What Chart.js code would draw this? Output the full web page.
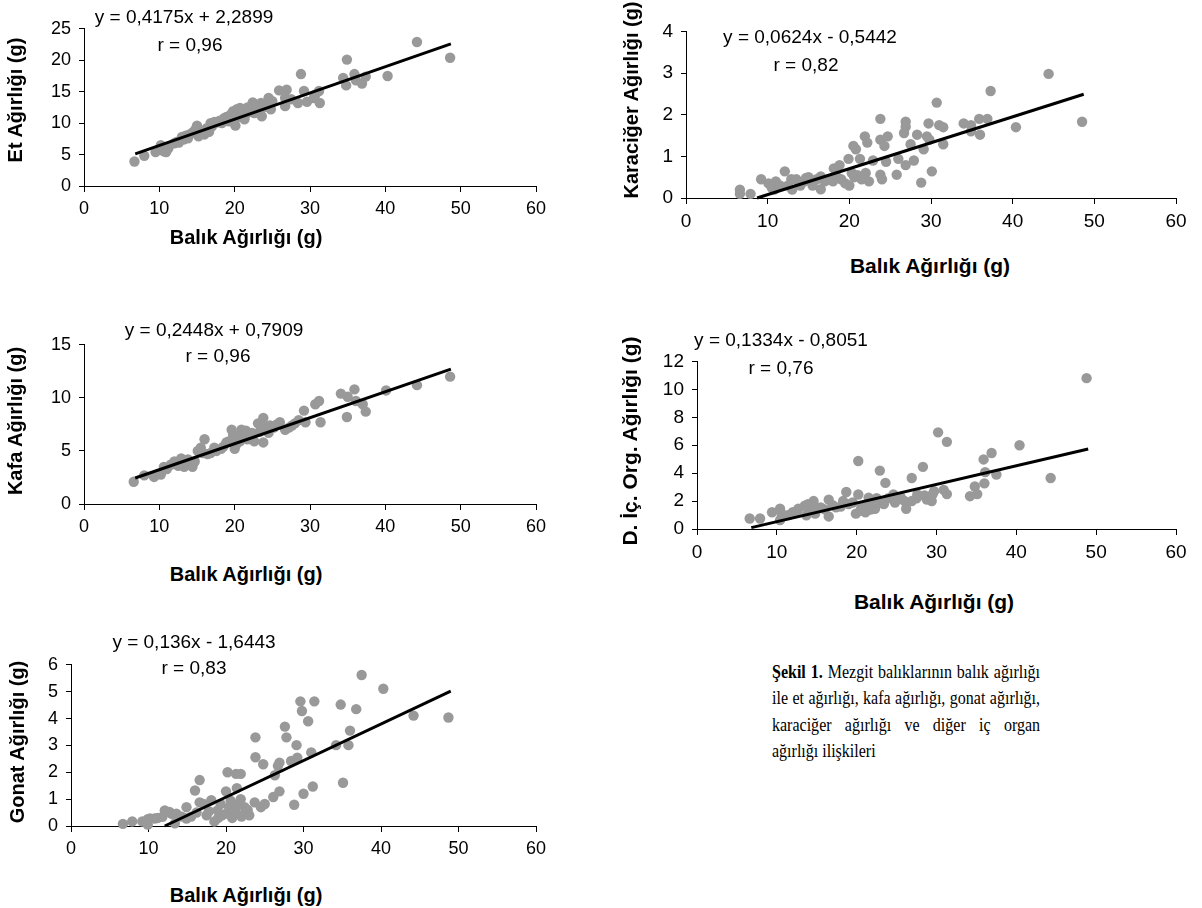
<!DOCTYPE html>
<html>
<head>
<meta charset="utf-8">
<script src="https://cdn.jsdelivr.net/npm/chart.js@4"></script>
<style>
  body { margin: 0; background: #fff; }
  #page { position: relative; width: 1202px; height: 908px; overflow: hidden; background: #fff; }
  .box { position: absolute; }
  .txt { position: absolute; white-space: nowrap; font-family: "Liberation Sans", Arial, sans-serif; color: #000; transform: translate(-50%, -50%); }
  .ttl { font-weight: bold; font-size: 21px; }
  .ttl.sm { font-size: 20px; }
  .ytl { transform: translate(-50%, -50%) rotate(-90deg); }
  .eq { font-size: 19px; }
  #caption { position: absolute; left: 772px; top: 659px; width: 318px; font-family: "Liberation Serif", "Times New Roman", serif; font-size: 19px; line-height: 26.3px; color: #000; transform: scaleX(0.843); transform-origin: 0 0; }
  #caption .j { text-align: justify; text-align-last: justify; white-space: nowrap; }
</style>
</head>
<body>
<div id="page">
  <div class="box" id="b1"><canvas id="c1"></canvas></div>
  <div class="box" id="b2"><canvas id="c2"></canvas></div>
  <div class="box" id="b3"><canvas id="c3"></canvas></div>
  <div class="box" id="b4"><canvas id="c4"></canvas></div>
  <div class="box" id="b5"><canvas id="c5"></canvas></div>

  <div class="txt eq" style="left:184px;top:17px">y = 0,4175x + 2,2899</div>
  <div class="txt eq" style="left:190px;top:45px">r = 0,96</div>
  <div class="txt eq" style="left:810px;top:37px">y = 0,0624x - 0,5442</div>
  <div class="txt eq" style="left:806px;top:65px">r = 0,82</div>
  <div class="txt eq" style="left:214px;top:330px">y = 0,2448x + 0,7909</div>
  <div class="txt eq" style="left:218px;top:356px">r = 0,96</div>
  <div class="txt eq" style="left:781px;top:340px">y = 0,1334x - 0,8051</div>
  <div class="txt eq" style="left:781px;top:368px">r = 0,76</div>
  <div class="txt eq" style="left:194px;top:642px">y = 0,136x - 1,6443</div>
  <div class="txt eq" style="left:194px;top:668px">r = 0,83</div>

  <div class="txt ttl sm" style="left:246px;top:237px">Balık Ağırlığı (g)</div>
  <div class="txt ttl" style="left:930px;top:266px">Balık Ağırlığı (g)</div>
  <div class="txt ttl sm" style="left:246px;top:574px">Balık Ağırlığı (g)</div>
  <div class="txt ttl" style="left:934px;top:602px">Balık Ağırlığı (g)</div>
  <div class="txt ttl sm" style="left:246px;top:895px">Balık Ağırlığı (g)</div>

  <div class="txt ttl sm ytl" style="left:15px;top:100px">Et Ağırlığı (g)</div>
  <div class="txt ttl sm ytl" style="left:631px;top:100px">Karaciğer Ağırlığı (g)</div>
  <div class="txt ttl sm ytl" style="left:15px;top:421px">Kafa Ağırlığı (g)</div>
  <div class="txt ttl ytl" style="left:630px;top:441px">D. İç. Org. Ağırlığı (g)</div>
  <div class="txt ttl sm ytl" style="left:17px;top:742px">Gonat Ağırlığı (g)</div>

  <div id="caption">
    <div class="j"><b>Şekil 1.</b> Mezgit balıklarının balık ağırlığı</div>
    <div class="j">ile et ağırlığı, kafa ağırlığı, gonat ağırlığı,</div>
    <div class="j">karaciğer ağırlığı ve diğer iç organ</div>
    <div>ağırlığı ilişkileri</div>
  </div>
</div>
<script>
// fish weight (x) vs organ weight (y)
const etPoints = [[6.7,3.9],[8.0,4.8],[9.5,5.4],[10.2,6.5],[10.6,5.5],[10.9,5.4],[11.2,6.0],[12.0,6.8],[12.3,7.0],[12.6,6.9],[13.0,7.8],[13.2,7.4],[13.5,8.0],[13.8,7.6],[14.0,8.2],[14.4,8.5],[14.8,9.0],[15.0,9.6],[15.2,7.9],[15.5,8.3],[15.8,8.8],[16.0,8.2],[16.3,9.2],[16.6,8.6],[16.8,10.0],[17.0,9.5],[17.3,10.2],[17.6,10.1],[18.0,10.4],[18.3,10.0],[18.6,10.8],[18.9,11.0],[19.2,10.3],[19.5,11.4],[19.8,11.9],[20.0,10.5],[20.1,9.6],[20.3,12.2],[20.5,11.6],[20.7,12.4],[20.9,11.0],[21.1,12.0],[21.3,10.6],[21.5,11.4],[21.7,12.5],[21.9,11.8],[22.2,12.2],[22.4,13.3],[22.6,11.6],[22.9,12.8],[23.2,12.0],[23.5,13.2],[23.6,11.1],[24.1,12.6],[24.5,14.0],[24.8,12.2],[25.0,13.5],[25.9,15.2],[26.9,15.3],[26.7,12.7],[26.7,14.0],[27.5,13.8],[28.4,13.2],[28.8,17.8],[29.2,15.1],[29.6,13.4],[30.5,14.0],[30.7,14.5],[31.2,15.1],[31.3,13.2],[34.4,17.2],[34.9,20.1],[34.8,16.0],[35.9,17.8],[36.1,16.8],[36.9,16.3],[37.4,17.4],[40.3,17.5],[44.2,22.9],[48.6,20.4]];
const etLine = [[6.8,5.1],[48.7,22.6]];

const karPoints = [[6.6,0.2],[6.6,0.1],[7.9,0.1],[9.2,0.45],[10.1,0.35],[10.5,0.25],[10.8,0.2],[11.0,0.4],[11.5,0.3],[12.1,0.64],[12.5,0.3],[12.9,0.45],[13.0,0.2],[13.5,0.45],[13.8,0.37],[14.0,0.3],[14.5,0.4],[14.7,0.48],[15.0,0.5],[15.5,0.3],[16.0,0.45],[16.5,0.21],[16.5,0.52],[17.0,0.4],[17.5,0.45],[18.0,0.4],[18.1,0.71],[18.5,0.5],[18.8,0.79],[19.0,0.45],[19.5,0.35],[19.9,0.94],[20.0,0.3],[20.3,0.6],[20.5,1.25],[20.6,0.5],[20.8,1.17],[21.0,0.55],[21.3,0.94],[21.5,0.45],[21.9,1.48],[22.0,0.6],[22.2,1.33],[22.4,0.4],[22.9,0.9],[23.8,1.9],[23.8,1.4],[23.8,0.56],[24.0,0.45],[24.3,1.25],[24.5,0.87],[24.7,1.48],[25.8,0.56],[26.0,0.94],[26.7,1.56],[26.9,1.83],[26.9,1.71],[26.9,0.79],[27.5,1.29],[27.9,0.9],[28.3,1.52],[28.8,0.37],[29.1,1.17],[29.5,1.48],[29.7,1.79],[29.8,1.4],[30.1,0.64],[30.7,2.29],[31.0,1.75],[31.5,1.29],[31.5,1.7],[34.0,1.79],[34.9,1.6],[34.9,1.75],[35.9,1.9],[36.0,1.52],[36.9,1.9],[37.3,2.57],[40.4,1.7],[44.4,2.98],[48.5,1.83]];
const karLine = [[8.7,0],[48.7,2.49]];

const kafaPoints = [[6.6,2.1],[8.0,2.7],[9.3,2.55],[10.2,2.77],[10.6,3.5],[11.0,3.3],[11.5,3.7],[12.0,4.0],[12.5,3.6],[12.9,4.3],[13.3,3.5],[13.8,4.2],[14.2,3.8],[14.4,3.5],[14.7,4.0],[15.1,5.0],[15.5,5.3],[15.8,4.8],[16.0,6.1],[16.4,4.7],[16.8,4.8],[17.3,5.3],[17.6,5.0],[18.2,5.2],[18.5,5.4],[18.9,5.8],[19.2,5.9],[19.6,7.0],[19.8,6.5],[20.0,5.2],[20.2,5.6],[20.5,6.4],[20.7,5.9],[20.9,7.0],[21.2,6.6],[21.5,6.9],[21.7,6.1],[22.0,6.3],[22.3,6.7],[22.6,5.9],[23.1,7.6],[23.3,6.8],[23.8,8.1],[23.8,5.8],[24.0,7.3],[24.5,6.7],[24.7,7.4],[25.2,7.2],[25.6,7.5],[26.0,7.7],[26.7,7.0],[27.2,7.2],[27.6,7.4],[28.0,7.6],[28.5,7.9],[29.2,8.8],[29.4,7.7],[30.7,9.4],[31.2,9.7],[31.4,7.7],[34.1,10.4],[34.9,8.2],[35.0,10.1],[35.9,10.8],[36.1,9.7],[37.0,9.4],[37.4,8.7],[40.1,10.7],[44.2,11.2],[48.6,12.0]];
const kafaLine = [[6.8,2.45],[48.7,12.71]];

const icPoints = [[6.6,0.75],[7.9,0.75],[9.4,1.2],[10.4,1.45],[10.4,0.64],[10.6,1.1],[11.5,1.0],[12.0,1.2],[12.5,1.2],[12.7,1.45],[13.5,1.67],[13.7,0.98],[13.9,1.78],[14.0,1.3],[14.6,2.0],[14.8,1.1],[15.0,1.5],[15.5,1.55],[16.0,1.4],[16.5,2.1],[16.5,0.9],[17.0,1.7],[17.4,1.55],[18.0,1.6],[18.3,2.0],[18.7,2.65],[19.0,1.78],[19.5,1.9],[19.9,1.1],[20.2,2.47],[20.2,4.87],[20.5,1.3],[20.6,1.55],[21.0,1.7],[21.1,1.2],[21.5,2.24],[21.8,2.0],[21.8,1.4],[22.3,1.45],[22.5,2.2],[22.9,4.18],[23.0,1.9],[23.4,1.78],[23.6,3.3],[24.0,2.2],[24.6,2.47],[24.8,1.9],[25.0,2.1],[25.5,2.3],[26.0,2.0],[26.2,1.45],[26.9,3.65],[26.9,2.0],[27.5,2.2],[27.6,2.47],[28.3,4.45],[28.5,2.4],[28.8,2.1],[29.2,2.3],[29.4,2.0],[29.5,2.47],[29.7,2.7],[30.2,6.92],[30.9,2.8],[31.3,6.24],[31.3,2.5],[34.2,2.35],[34.8,3.04],[35.1,2.5],[35.9,4.98],[36.0,3.27],[36.1,4.07],[36.9,5.44],[37.5,3.9],[40.4,6.0],[44.3,3.65],[48.8,10.8]];
const icLine = [[6.8,0.1],[49.0,5.73]];

const gonatPoints = [[6.7,0.08],[7.9,0.17],[9.2,0.17],[9.9,0.25],[9.9,0.05],[10.2,0.28],[10.8,0.28],[11.2,0.3],[11.8,0.34],[12.1,0.58],[12.7,0.52],[13.0,0.45],[13.4,0.1],[13.6,0.46],[14.3,0.35],[14.9,0.7],[14.9,0.28],[15.5,0.35],[16.0,1.32],[16.2,0.5],[16.6,1.71],[16.6,0.88],[17.1,0.82],[17.5,0.4],[17.8,0.55],[18.1,0.96],[18.5,0.17],[18.9,0.58],[19.0,0.3],[19.3,0.82],[19.5,0.4],[20.0,1.29],[20.0,0.46],[20.2,2.0],[20.4,0.7],[20.6,0.94],[20.8,0.3],[21.2,0.55],[21.3,1.94],[21.4,1.41],[21.6,0.8],[21.9,1.94],[21.9,1.0],[22.0,0.35],[22.4,0.46],[22.4,0.7],[22.8,0.6],[23.0,0.4],[23.7,0.88],[23.8,3.3],[23.8,2.56],[24.5,0.7],[24.8,2.3],[25.0,0.82],[26.1,1.08],[26.3,1.89],[26.7,2.24],[26.9,2.36],[26.9,1.29],[27.6,3.7],[27.8,3.3],[28.4,2.42],[28.8,0.79],[29.1,3.01],[29.2,2.54],[29.6,4.64],[29.8,4.28],[30.0,1.2],[30.6,3.9],[31.0,2.74],[31.2,1.47],[31.4,4.64],[34.2,3.01],[34.8,4.52],[35.1,1.61],[35.8,3.01],[36.0,3.55],[36.8,4.35],[37.5,5.62],[40.3,5.11],[44.2,4.11],[48.7,4.04]];
const gonatLine = [[12.1,0],[49.0,5.02]];

// plot area corners in page pixels, axis ranges
const layouts = {
  c1: { left: 84, right: 536, top: 22, bottom: 186, yMax: 25, yStep: 5, font: 18 },
  c2: { left: 686, right: 1176, top: 24, bottom: 198, yMax: 4, yStep: 1, font: 19 },
  c3: { left: 84, right: 536, top: 338, bottom: 504, yMax: 15, yStep: 5, font: 18 },
  c4: { left: 697, right: 1176, top: 354, bottom: 529, yMax: 12, yStep: 2, font: 19 },
  c5: { left: 71, right: 536, top: 658, bottom: 826, yMax: 6, yStep: 1, font: 18 },
};

const Y_W = 60, X_H = 42, PAD_T = 12, PAD_R = 28;

function toXY(arr) {
  return arr.map(p => ({ x: p[0], y: p[1] }));
}

function drawScatter(id, points, line) {
  const L = layouts[id];
  const w = (L.right - L.left) + Y_W + PAD_R;
  const h = (L.bottom - L.top) + PAD_T + X_H;
  const box = document.getElementById("b" + id.slice(1));
  box.style.left = (L.left - Y_W) + "px";
  box.style.top = (L.top - PAD_T) + "px";
  box.style.width = w + "px";
  box.style.height = h + "px";
  const cv = document.getElementById(id);
  cv.width = w;
  cv.height = h;
  const tickFont = { family: "'Liberation Sans', Arial, sans-serif", size: L.font };

  new Chart(cv.getContext("2d"), {
    type: "scatter",
    data: {
      datasets: [
        {
          data: toXY(line),
          showLine: true,
          borderColor: "#000",
          borderWidth: 3,
          pointRadius: 0,
          order: 0,
          clip: false,
        },
        {
          data: toXY(points),
          backgroundColor: "#999999",
          borderWidth: 0,
          pointRadius: 5.2,
          order: 1,
          clip: false,
        },
      ],
    },
    options: {
      responsive: false,
      animation: false,
      layout: { padding: { top: PAD_T, right: PAD_R, left: 0, bottom: 0 } },
      plugins: { legend: { display: false }, tooltip: { enabled: false } },
      scales: {
        x: {
          type: "linear",
          min: 0,
          max: 60,
          ticks: { stepSize: 10, color: "#000", font: tickFont, padding: 6, maxRotation: 0 },
          grid: { drawOnChartArea: false, drawTicks: true, tickLength: 6, color: "#000" },
          border: { color: "#000", width: 1 },
          afterFit: (s) => { s.height = X_H; },
        },
        y: {
          min: 0,
          max: L.yMax,
          ticks: { stepSize: L.yStep, color: "#000", font: tickFont, padding: 8 },
          grid: { drawOnChartArea: false, drawTicks: true, tickLength: 5, color: "#000" },
          border: { color: "#000", width: 1 },
          afterFit: (s) => { s.width = Y_W; },
        },
      },
    },
  });
}

drawScatter("c1", etPoints, etLine);
drawScatter("c2", karPoints, karLine);
drawScatter("c3", kafaPoints, kafaLine);
drawScatter("c4", icPoints, icLine);
drawScatter("c5", gonatPoints, gonatLine);
</script>
</body>
</html>
